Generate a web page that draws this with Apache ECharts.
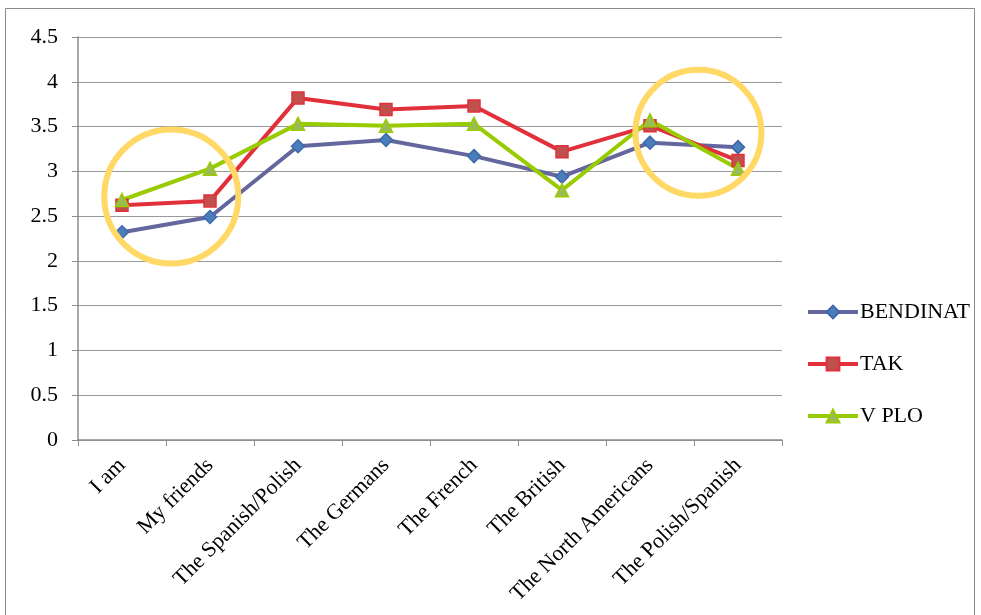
<!DOCTYPE html>
<html><head><meta charset="utf-8">
<script src="https://cdn.jsdelivr.net/npm/echarts@6/dist/echarts.min.js"></script>
<style>html,body{margin:0;padding:0;background:#fff}#c{width:981px;height:615px}</style>
</head><body><div id="c"></div>
<script>
const categories = ['I am','My friends','The Spanish/Polish','The Germans','The French','The British','The North Americans','The Polish/Spanish'];
const bendinat = [2.32, 2.49, 3.28, 3.35, 3.17, 2.94, 3.32, 3.27];
const tak = [2.62, 2.67, 3.82, 3.69, 3.73, 3.22, 3.51, 3.12];
const vplo = [2.68, 3.03, 3.53, 3.51, 3.53, 2.79, 3.57, 3.03];
// highlight circles: [category index position, value, radius px]
const highlights = [[0.56, 2.72, 67], [6.55, 3.43, 63]];

const chart = echarts.init(document.getElementById('c'));
const font = 'Liberation Serif, Times New Roman, serif';
function mk(name, data, lineColor, fill, border, symbol, size) {
  return {
    name, type: 'line', data, symbol, symbolSize: size,
    lineStyle: { color: lineColor, width: 4 },
    itemStyle: { color: fill, borderColor: border, borderWidth: 1.5 },
    emphasis: { disabled: true }, animation: false
  };
}
chart.setOption({
  animation: false,
  grid: { left: 78, right: 199, top: 37, bottom: 175 },
  xAxis: {
    type: 'category', data: categories, boundaryGap: true,
    axisLine: { lineStyle: { color: '#8c8c8c', width: 1.5 } },
    axisTick: { show: true, length: 6, lineStyle: { color: '#8c8c8c' } },
    axisLabel: { rotate: 45, fontFamily: font, fontSize: 22, color: '#000', interval: 0, margin: 22 }
  },
  yAxis: {
    type: 'value', min: 0, max: 4.5, interval: 0.5,
    axisLine: { show: true, lineStyle: { color: '#8c8c8c', width: 1.5 } },
    axisTick: { show: true, length: 6, lineStyle: { color: '#8c8c8c' } },
    splitLine: { lineStyle: { color: '#9a9a9a', width: 1.2 } },
    axisLabel: { fontFamily: font, fontSize: 22, color: '#000', margin: 20 }
  },
  legend: {
    orient: 'vertical', left: 801, top: 296, itemGap: 30, itemWidth: 50, itemHeight: 16,
    lineStyle: { width: 4 },
    textStyle: { fontFamily: font, fontSize: 22, color: '#000', padding: [0,0,0,-3] },
    data: ['BENDINAT','TAK','V PLO']
  },
  series: [
    mk('BENDINAT', bendinat, '#64669E', '#4A7EBB', '#3F68A8', 'diamond', 13),
    mk('TAK', tak, '#E2303A', '#C0504D', '#E2303A', 'rect', 12),
    mk('V PLO', vplo, '#99CC00', '#9BBB59', '#99CC00', 'triangle', 13)
  ]
});
const g = [{ type: 'rect', shape: { x: 5.5, y: 8.5, width: 969, height: 620 }, style: { fill: 'none', stroke: '#8c8c8c', lineWidth: 1 }, silent: true }];
highlights.forEach(h => {
  const x0 = chart.convertToPixel({ xAxisIndex: 0 }, Math.floor(h[0]));
  const x1 = chart.convertToPixel({ xAxisIndex: 0 }, Math.floor(h[0]) + 1);
  const px = x0 + (x1 - x0) * (h[0] - Math.floor(h[0]));
  const py = chart.convertToPixel({ yAxisIndex: 0 }, h[1]);
  g.push({ type: 'circle', shape: { cx: px, cy: py, r: h[2] }, style: { fill: 'none', stroke: '#FFD866', lineWidth: 6 }, z: 100, silent: true });
});
chart.setOption({ graphic: g });
</script></body></html>
